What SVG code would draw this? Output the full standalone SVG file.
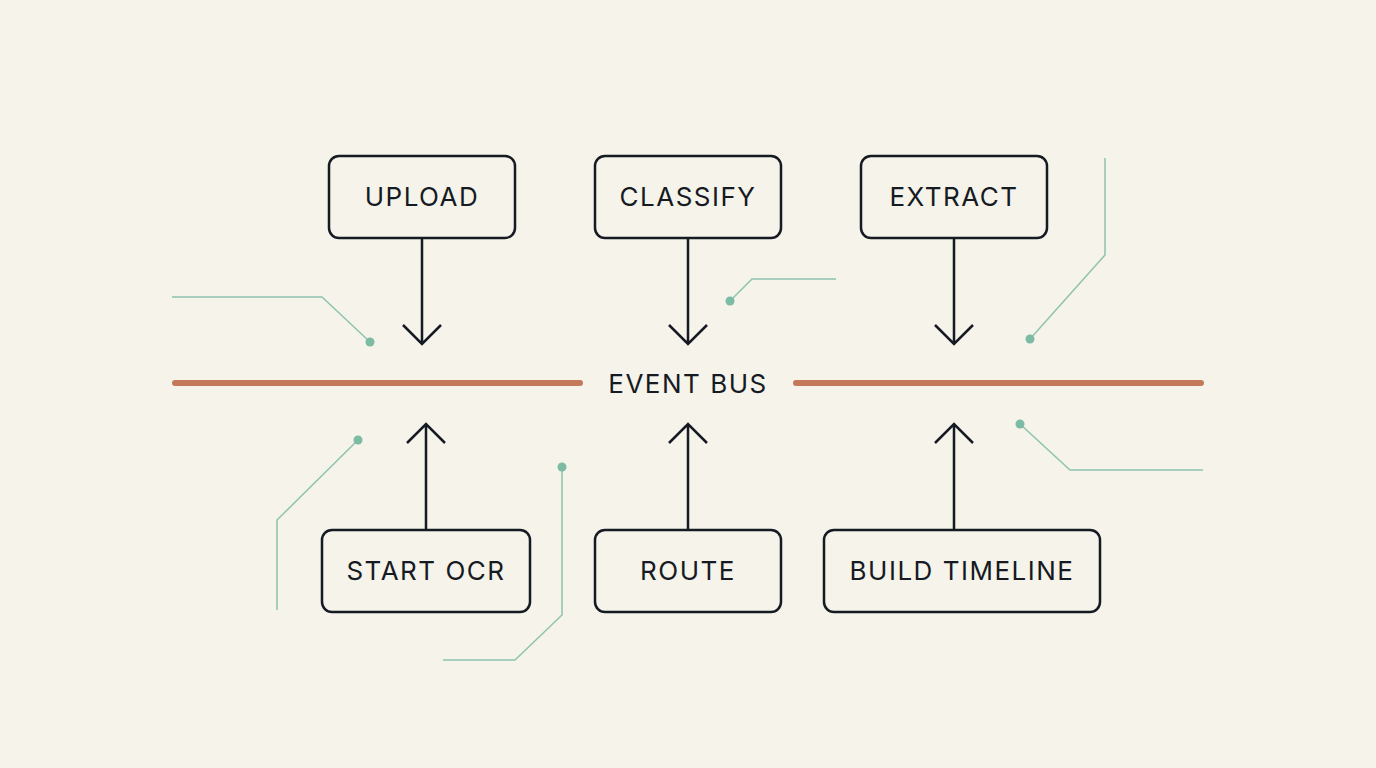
<svg xmlns="http://www.w3.org/2000/svg" width="1376" height="768" viewBox="0 0 1376 768">
<style>
.box{fill:#F5F3EA;stroke:#161a22;stroke-width:2.5}
.t{font-family:Inter,"Liberation Sans",sans-serif;font-size:26px;fill:#161a22;text-anchor:middle;letter-spacing:1.5px}
.a{stroke:#161a22;stroke-width:2.5;fill:none}
.g{stroke:#8EC4AF;stroke-width:1.5;fill:none}
.d{fill:#7DBBA5}
</style>
<rect width="1376" height="768" fill="#F5F3EA"/>
<g id="decor">
<polyline class="g" points="172,297 322,297 370,342"/><circle class="d" cx="370" cy="342" r="4.5"/>
<polyline class="g" points="730,301 752,279 836,279"/><circle class="d" cx="730" cy="301" r="4.5"/>
<polyline class="g" points="1030,339 1105,255 1105,158"/><circle class="d" cx="1030" cy="339" r="4.5"/>
<polyline class="g" points="358,440 277,520 277,610"/><circle class="d" cx="358" cy="440" r="4.5"/>
<polyline class="g" points="562,467 562,615 515,660 443,660"/><circle class="d" cx="562" cy="467" r="4.5"/>
<polyline class="g" points="1020,424 1070,470 1203,470"/><circle class="d" cx="1020" cy="424" r="4.5"/>
</g>
<g id="bus">
<line x1="175" y1="383" x2="580" y2="383" stroke="#C47A5A" stroke-width="6" stroke-linecap="round"/>
<line x1="796" y1="383" x2="1201" y2="383" stroke="#C47A5A" stroke-width="6" stroke-linecap="round"/>
<text class="t" x="688" y="393">EVENT BUS</text>
</g>
<g id="connectors">
<path class="a" d="M422,238V344M403,325L422,344L441,325"/>
<path class="a" d="M688,238V344M669,325L688,344L707,325"/>
<path class="a" d="M954,238V344M935,325L954,344L973,325"/>
<path class="a" d="M426,530V424M407,443L426,424L445,443"/>
<path class="a" d="M688,530V424M669,443L688,424L707,443"/>
<path class="a" d="M954,530V424M935,443L954,424L973,443"/>
</g>
<g id="upload"><rect class="box" x="329" y="156" width="186" height="82" rx="10"/><text class="t" x="422" y="206">UPLOAD</text></g>
<g id="classify"><rect class="box" x="595" y="156" width="186" height="82" rx="10"/><text class="t" x="688" y="206">CLASSIFY</text></g>
<g id="extract"><rect class="box" x="861" y="156" width="186" height="82" rx="10"/><text class="t" x="954" y="206">EXTRACT</text></g>
<g id="startocr"><rect class="box" x="322" y="530" width="208" height="82" rx="10"/><text class="t" x="426" y="580">START OCR</text></g>
<g id="route"><rect class="box" x="595" y="530" width="186" height="82" rx="10"/><text class="t" x="688" y="580">ROUTE</text></g>
<g id="buildtimeline"><rect class="box" x="824" y="530" width="276" height="82" rx="10"/><text class="t" x="962" y="580">BUILD TIMELINE</text></g>
</svg>
